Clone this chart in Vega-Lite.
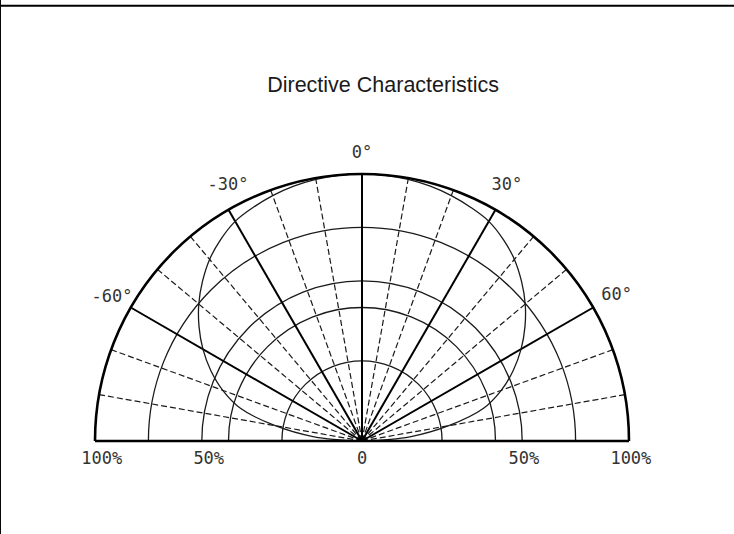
{
  "$schema": "https://vega.github.io/schema/vega-lite/v6.json",
  "width": 544.68,
  "height": 272.34,
  "autosize": {"type": "none"},
  "padding": {"left": 89.66, "top": 168.66, "right": 99.66, "bottom": 93},
  "background": "white",
  "config": {"view": {"stroke": null}},
  "datasets": {
    "rings": [
      {"ring": 30, "kind": "minor", "h": 0, "v": 0},
      {"ring": 50, "kind": "minor", "h": 0, "v": 0},
      {"ring": 60, "kind": "minor", "h": 0, "v": 0},
      {"ring": 80, "kind": "minor", "h": 0, "v": 0},
      {"ring": 100, "kind": "outer", "h": 0, "v": 0}
    ],
    "spokes": [
      {"angle": -80, "h0": 0, "v0": 0, "h": -98.481, "v": 17.365, "kind": "minor"},
      {"angle": -70, "h0": 0, "v0": 0, "h": -93.969, "v": 34.202, "kind": "minor"},
      {"angle": -60, "h0": 0, "v0": 0, "h": -86.603, "v": 50, "kind": "major"},
      {"angle": -50, "h0": 0, "v0": 0, "h": -76.604, "v": 64.279, "kind": "minor"},
      {"angle": -40, "h0": 0, "v0": 0, "h": -64.279, "v": 76.604, "kind": "minor"},
      {"angle": -30, "h0": 0, "v0": 0, "h": -50, "v": 86.603, "kind": "major"},
      {"angle": -20, "h0": 0, "v0": 0, "h": -34.202, "v": 93.969, "kind": "minor"},
      {"angle": -10, "h0": 0, "v0": 0, "h": -17.365, "v": 98.481, "kind": "minor"},
      {"angle": 0, "h0": 0, "v0": 0, "h": 0, "v": 100, "kind": "major"},
      {"angle": 10, "h0": 0, "v0": 0, "h": 17.365, "v": 98.481, "kind": "minor"},
      {"angle": 20, "h0": 0, "v0": 0, "h": 34.202, "v": 93.969, "kind": "minor"},
      {"angle": 30, "h0": 0, "v0": 0, "h": 50, "v": 86.603, "kind": "major"},
      {"angle": 40, "h0": 0, "v0": 0, "h": 64.279, "v": 76.604, "kind": "minor"},
      {"angle": 50, "h0": 0, "v0": 0, "h": 76.604, "v": 64.279, "kind": "minor"},
      {"angle": 60, "h0": 0, "v0": 0, "h": 86.603, "v": 50, "kind": "major"},
      {"angle": 70, "h0": 0, "v0": 0, "h": 93.969, "v": 34.202, "kind": "minor"},
      {"angle": 80, "h0": 0, "v0": 0, "h": 98.481, "v": 17.365, "kind": "minor"},
      {"angle": 90, "h0": -100, "v0": 0, "h": 100, "v": 0, "kind": "base"}
    ],
    "frame": [
      {"side": "top", "h0": -140, "v0": 163, "h": 140, "v": 163},
      {"side": "left", "h0": -135.4, "v0": 166, "h": -135.4, "v": -36}
    ],
    "pattern": [
      {"angle": -90, "level": 0, "h": 0, "v": 0},
      {"angle": -85, "level": 18, "h": -17.93, "v": 1.57},
      {"angle": -80, "level": 33, "h": -32.5, "v": 5.73},
      {"angle": -75, "level": 47, "h": -45.4, "v": 12.16},
      {"angle": -70, "level": 55.5, "h": -52.15, "v": 18.98},
      {"angle": -65, "level": 62.5, "h": -56.64, "v": 26.41},
      {"angle": -60, "level": 68.8, "h": -59.58, "v": 34.4},
      {"angle": -55, "level": 74.5, "h": -61.03, "v": 42.73},
      {"angle": -50, "level": 79.8, "h": -61.13, "v": 51.3},
      {"angle": -45, "level": 84.5, "h": -59.75, "v": 59.75},
      {"angle": -40, "level": 88.8, "h": -57.08, "v": 68.02},
      {"angle": -35, "level": 92.2, "h": -52.89, "v": 75.53},
      {"angle": -30, "level": 95, "h": -47.5, "v": 82.27},
      {"angle": -25, "level": 96.5, "h": -40.78, "v": 87.46},
      {"angle": -20, "level": 97.8, "h": -33.45, "v": 91.9},
      {"angle": -15, "level": 98.8, "h": -25.57, "v": 95.43},
      {"angle": -10, "level": 99.5, "h": -17.28, "v": 97.99},
      {"angle": -5, "level": 99.9, "h": -8.71, "v": 99.52},
      {"angle": 0, "level": 100, "h": 0, "v": 100},
      {"angle": 5, "level": 99.9, "h": 8.71, "v": 99.52},
      {"angle": 10, "level": 99.5, "h": 17.28, "v": 97.99},
      {"angle": 15, "level": 98.8, "h": 25.57, "v": 95.43},
      {"angle": 20, "level": 97.8, "h": 33.45, "v": 91.9},
      {"angle": 25, "level": 96.5, "h": 40.78, "v": 87.46},
      {"angle": 30, "level": 95, "h": 47.5, "v": 82.27},
      {"angle": 35, "level": 92.2, "h": 52.89, "v": 75.53},
      {"angle": 40, "level": 88.8, "h": 57.08, "v": 68.02},
      {"angle": 45, "level": 84.5, "h": 59.75, "v": 59.75},
      {"angle": 50, "level": 79.8, "h": 61.13, "v": 51.3},
      {"angle": 55, "level": 74.5, "h": 61.03, "v": 42.73},
      {"angle": 60, "level": 68.8, "h": 59.58, "v": 34.4},
      {"angle": 65, "level": 62.5, "h": 56.64, "v": 26.41},
      {"angle": 70, "level": 55.5, "h": 52.15, "v": 18.98},
      {"angle": 75, "level": 47, "h": 45.4, "v": 12.16},
      {"angle": 80, "level": 33, "h": 32.5, "v": 5.73},
      {"angle": 85, "level": 18, "h": 17.93, "v": 1.57},
      {"angle": 90, "level": 0, "h": 0, "v": 0}
    ],
    "labels": [
      {"label": "0°", "h": 0, "v": 107.9},
      {"label": "-30°", "h": -50.2, "v": 95.7},
      {"label": "30°", "h": 54.3, "v": 95.7},
      {"label": "-60°", "h": -93.6, "v": 54.1},
      {"label": "60°", "h": 95.4, "v": 54.7},
      {"label": "100%", "h": -97.5, "v": -6.7},
      {"label": "50%", "h": -57.4, "v": -6.7},
      {"label": "0", "h": 0, "v": -6.7},
      {"label": "50%", "h": 60.6, "v": -6.7},
      {"label": "100%", "h": 100.7, "v": -6.7}
    ],
    "heading": [
      {"label": "Directive Characteristics", "h": 7.9, "v": 133}
    ]
  },
  "layer": [
    {
      "data": {"name": "frame"},
      "transform": [{"filter": "datum.side === 'top'"}],
      "mark": {"type": "rule", "color": "black", "strokeWidth": 2},
      "encoding": {
        "x": {"field": "h0", "type": "quantitative", "scale": {"domain": [-102, 102], "nice": false, "zero": false}, "axis": null},
        "y": {"field": "v0", "type": "quantitative", "scale": {"domain": [0, 102], "nice": false, "zero": false}, "axis": null},
        "x2": {"field": "h"},
        "y2": {"field": "v"}
      }
    },
    {
      "data": {"name": "frame"},
      "transform": [{"filter": "datum.side === 'left'"}],
      "mark": {"type": "rule", "color": "black", "strokeWidth": 1},
      "encoding": {
        "x": {"field": "h0", "type": "quantitative", "scale": {"domain": [-102, 102], "nice": false, "zero": false}, "axis": null},
        "y": {"field": "v0", "type": "quantitative", "scale": {"domain": [0, 102], "nice": false, "zero": false}, "axis": null},
        "x2": {"field": "h"},
        "y2": {"field": "v"}
      }
    },
    {
      "data": {"name": "rings"},
      "transform": [{"filter": "datum.kind === 'minor'"}],
      "mark": {"type": "point", "shape": "circle", "filled": false, "color": "#1a1a1a", "opacity": 1, "strokeWidth": 1.3, "clip": true},
      "encoding": {
        "x": {"field": "h", "type": "quantitative", "scale": {"domain": [-102, 102], "nice": false, "zero": false}, "axis": null},
        "y": {"field": "v", "type": "quantitative", "scale": {"domain": [0, 102], "nice": false, "zero": false}, "axis": null},
        "size": {"field": "ring", "type": "quantitative", "scale": {"type": "pow", "exponent": 2, "domain": [0, 100], "range": [0, 285156], "zero": true}, "legend": null}
      }
    },
    {
      "data": {"name": "spokes"},
      "transform": [{"filter": "datum.kind === 'minor'"}],
      "mark": {"type": "rule", "color": "#1a1a1a", "strokeWidth": 1.2, "strokeDash": [6, 3]},
      "encoding": {
        "x": {"field": "h0", "type": "quantitative", "scale": {"domain": [-102, 102], "nice": false, "zero": false}, "axis": null},
        "y": {"field": "v0", "type": "quantitative", "scale": {"domain": [0, 102], "nice": false, "zero": false}, "axis": null},
        "x2": {"field": "h"},
        "y2": {"field": "v"}
      }
    },
    {
      "data": {"name": "spokes"},
      "transform": [{"filter": "datum.kind === 'major'"}],
      "mark": {"type": "rule", "color": "black", "strokeWidth": 2},
      "encoding": {
        "x": {"field": "h0", "type": "quantitative", "scale": {"domain": [-102, 102], "nice": false, "zero": false}, "axis": null},
        "y": {"field": "v0", "type": "quantitative", "scale": {"domain": [0, 102], "nice": false, "zero": false}, "axis": null},
        "x2": {"field": "h"},
        "y2": {"field": "v"}
      }
    },
    {
      "data": {"name": "pattern"},
      "mark": {"type": "line", "color": "#1a1a1a", "strokeWidth": 1.3, "interpolate": "catmull-rom"},
      "encoding": {
        "x": {"field": "h", "type": "quantitative", "scale": {"domain": [-102, 102], "nice": false, "zero": false}, "axis": null},
        "y": {"field": "v", "type": "quantitative", "scale": {"domain": [0, 102], "nice": false, "zero": false}, "axis": null},
        "order": {"field": "angle", "type": "quantitative"}
      }
    },
    {
      "data": {"name": "rings"},
      "transform": [{"filter": "datum.kind === 'outer'"}],
      "mark": {"type": "point", "shape": "circle", "filled": false, "color": "black", "opacity": 1, "strokeWidth": 2.6, "clip": true},
      "encoding": {
        "x": {"field": "h", "type": "quantitative", "scale": {"domain": [-102, 102], "nice": false, "zero": false}, "axis": null},
        "y": {"field": "v", "type": "quantitative", "scale": {"domain": [0, 102], "nice": false, "zero": false}, "axis": null},
        "size": {"field": "ring", "type": "quantitative", "scale": {"type": "pow", "exponent": 2, "domain": [0, 100], "range": [0, 285156], "zero": true}, "legend": null}
      }
    },
    {
      "data": {"name": "spokes"},
      "transform": [{"filter": "datum.kind === 'base'"}],
      "mark": {"type": "rule", "color": "black", "strokeWidth": 2.6},
      "encoding": {
        "x": {"field": "h0", "type": "quantitative", "scale": {"domain": [-102, 102], "nice": false, "zero": false}, "axis": null},
        "y": {"field": "v0", "type": "quantitative", "scale": {"domain": [0, 102], "nice": false, "zero": false}, "axis": null},
        "x2": {"field": "h"},
        "y2": {"field": "v"}
      }
    },
    {
      "data": {"name": "labels"},
      "mark": {"type": "text", "font": "DejaVu Sans Mono", "fontSize": 17, "color": "#333333", "align": "center", "baseline": "middle"},
      "encoding": {
        "x": {"field": "h", "type": "quantitative", "scale": {"domain": [-102, 102], "nice": false, "zero": false}, "axis": null},
        "y": {"field": "v", "type": "quantitative", "scale": {"domain": [0, 102], "nice": false, "zero": false}, "axis": null},
        "text": {"field": "label", "type": "nominal"}
      }
    },
    {
      "data": {"name": "heading"},
      "mark": {"type": "text", "font": "Liberation Sans", "fontSize": 21.5, "color": "#1a1a1a", "align": "center", "baseline": "middle"},
      "encoding": {
        "x": {"field": "h", "type": "quantitative", "scale": {"domain": [-102, 102], "nice": false, "zero": false}, "axis": null},
        "y": {"field": "v", "type": "quantitative", "scale": {"domain": [0, 102], "nice": false, "zero": false}, "axis": null},
        "text": {"field": "label", "type": "nominal"}
      }
    }
  ]
}
